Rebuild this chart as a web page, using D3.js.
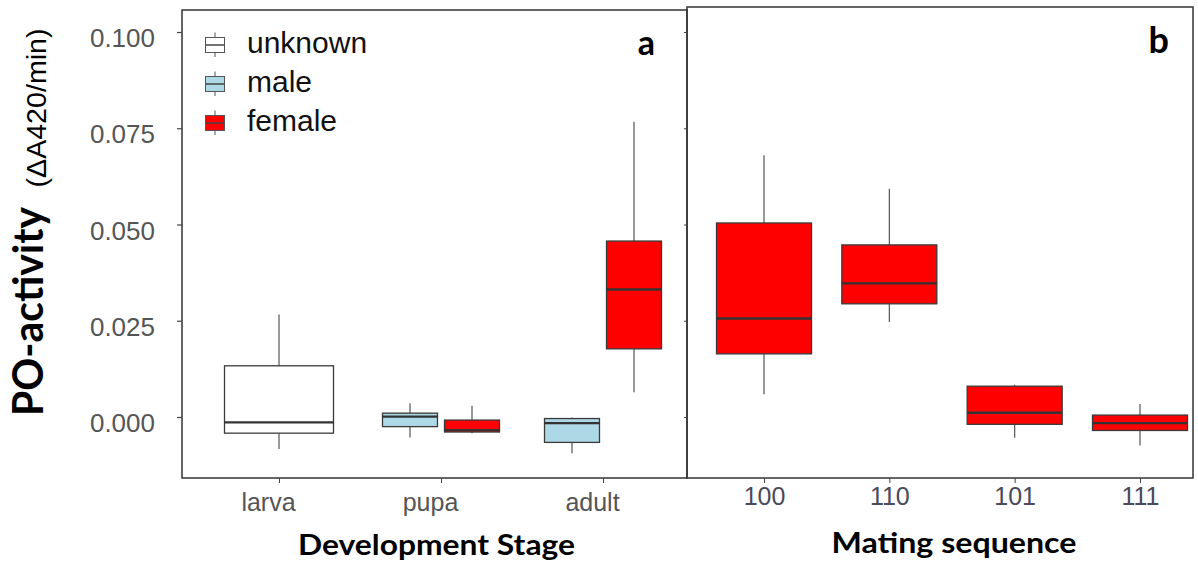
<!DOCTYPE html>
<html>
<head>
<meta charset="utf-8">
<script src="https://cdn.jsdelivr.net/npm/d3@7"></script>
<style>
  html, body { margin: 0; padding: 0; background: #fff; }
  svg { display: block; }
</style>
</head>
<body>
<svg id="chart" width="1198" height="563"></svg>
<script>
// ---------------- data ----------------
const stages = ["larva", "pupa", "adult"];
const matings = ["100", "110", "101", "111"];
const groups = ["unknown", "male", "female"];
const groupColors = ["#ffffff", "#add8e6", "#ff0000"];
const yTicks = [0, 0.025, 0.05, 0.075, 0.1];

// box stats: [lower whisker, Q1, median, Q3, upper whisker]
const unknownStats = { larva: [-0.0083, -0.0042, -0.0014, 0.0133, 0.0266] };
const maleStats = {
  pupa:  [-0.0053, -0.0025, 0.0001, 0.0010, 0.0036],
  adult: [-0.0094, -0.0066, -0.0016, -0.0004, -0.0001]
};
const femaleStats = {
  pupa:  [-0.0042, -0.0039, -0.0034, -0.0008, 0.0029],
  adult: [0.0064, 0.0177, 0.0331, 0.0457, 0.0767]
};
const matingStats = [
  [0.0059, 0.0164, 0.0256, 0.0504, 0.0680],
  [0.0247, 0.0294, 0.0347, 0.0447, 0.0593],
  [-0.0054, -0.0019, 0.0011, 0.0080, 0.0084],
  [-0.0074, -0.0035, -0.0016, 0.0005, 0.0034]
];

// ---------------- layout ----------------
const svg = d3.select("#chart");
const panelA = { x0: 182, x1: 687, y0: 10, y1: 478 };
const panelB = { x0: 687, x1: 1193, y0: 7, y1: 478 };

const y = d3.scaleLinear().domain([0, 0.1]).range([417, 32]);
const xA = d3.scalePoint().domain(stages).range([279, 603]);
const xB = d3.scalePoint().domain(matings).range([764, 1140]);
const dodge = 31;

const boxStroke = "#3a3a3a";
const whiskerStroke = "#555";
const medianStroke = "#333";

// build box list
const boxesA = [];
Object.entries(unknownStats).forEach(([k, v]) => boxesA.push({ cx: xA(k), w: 109, s: v, fill: groupColors[0] }));
Object.entries(maleStats).forEach(([k, v]) => boxesA.push({ cx: xA(k) - dodge, w: 55, s: v, fill: groupColors[1] }));
Object.entries(femaleStats).forEach(([k, v]) => boxesA.push({ cx: xA(k) + dodge, w: 55, s: v, fill: groupColors[2] }));
const boxesB = matingStats.map((s, i) => ({ cx: xB(matings[i]), w: 95, s: s, fill: groupColors[2] }));

function drawBoxes(g, data) {
  const b = g.selectAll("g.box").data(data).join("g").attr("class", "box");
  b.append("line")
    .attr("x1", d => d.cx).attr("x2", d => d.cx)
    .attr("y1", d => y(d.s[4])).attr("y2", d => y(d.s[3]))
    .attr("stroke", whiskerStroke).attr("stroke-width", 1.2);
  b.append("line")
    .attr("x1", d => d.cx).attr("x2", d => d.cx)
    .attr("y1", d => y(d.s[1])).attr("y2", d => y(d.s[0]))
    .attr("stroke", whiskerStroke).attr("stroke-width", 1.2);
  b.append("rect")
    .attr("x", d => d.cx - d.w / 2).attr("width", d => d.w)
    .attr("y", d => y(d.s[3])).attr("height", d => y(d.s[1]) - y(d.s[3]))
    .attr("fill", d => d.fill).attr("stroke", boxStroke).attr("stroke-width", 1.3);
  b.append("line")
    .attr("x1", d => d.cx - d.w / 2).attr("x2", d => d.cx + d.w / 2)
    .attr("y1", d => y(d.s[2])).attr("y2", d => y(d.s[2]))
    .attr("stroke", medianStroke).attr("stroke-width", 2.4);
}

// ---------------- panels ----------------
const gA = svg.append("g");
const gB = svg.append("g");
drawBoxes(gA, boxesA);
drawBoxes(gB, boxesB);

// borders
[panelA, panelB].forEach(p => {
  svg.append("rect")
    .attr("x", p.x0).attr("y", p.y0)
    .attr("width", p.x1 - p.x0).attr("height", p.y1 - p.y0)
    .attr("fill", "none").attr("stroke", "#333").attr("stroke-width", 1.5);
});

// y axis (panel a)
const yAxis = d3.axisLeft(y).tickValues(yTicks).tickFormat(d3.format(".3f")).tickSize(5).tickPadding(0);
const gy = svg.append("g").attr("transform", `translate(${panelA.x0},0)`).call(yAxis);
gy.select(".domain").remove();
gy.selectAll(".tick line").attr("stroke", "#444").attr("stroke-width", 1.2);
gy.selectAll(".tick text")
  .attr("x", -27).attr("dy", null).attr("y", 14.5)
  .attr("fill", "#555")
  .style("font-family", "'Liberation Sans', Arial, sans-serif")
  .style("font-size", "26px");

// y ticks on panel b (no labels)
const yAxisB = d3.axisLeft(y).tickValues(yTicks).tickFormat("").tickSize(3);
const gyB = svg.append("g").attr("transform", `translate(${panelB.x0},0)`).call(yAxisB);
gyB.select(".domain").remove();
gyB.selectAll(".tick line").attr("stroke", "#444");

// x axis panel a
const xAxisA = d3.axisBottom(xA).tickSize(5).tickPadding(0);
const gxA = svg.append("g").attr("transform", `translate(0,${panelA.y1})`).call(xAxisA);
gxA.select(".domain").remove();
gxA.selectAll(".tick line").attr("stroke", "#444");
gxA.selectAll(".tick text")
  .attr("x", -11).attr("dy", null).attr("y", 32.5)
  .attr("fill", "#555")
  .style("font-family", "'Liberation Sans', Arial, sans-serif")
  .style("font-size", "25px");

// x axis panel b
const xAxisB = d3.axisBottom(xB).tickSize(5).tickPadding(0);
const gxB = svg.append("g").attr("transform", `translate(0,${panelB.y1})`).call(xAxisB);
gxB.select(".domain").remove();
gxB.selectAll(".tick line").attr("stroke", "#444");
gxB.selectAll(".tick text")
  .attr("dy", null).attr("y", 27)
  .attr("fill", "#4a4a58")
  .style("font-family", "'Liberation Sans', Arial, sans-serif")
  .style("font-size", "25px");

// axis titles
const boldFont = "Lato, 'Open Sans', sans-serif";
svg.append("text")
  .attr("x", 436.5).attr("y", 555)
  .attr("text-anchor", "middle")
  .attr("textLength", 277).attr("lengthAdjust", "spacingAndGlyphs")
  .style("font-family", boldFont).style("font-weight", 700).style("font-size", "28px")
  .attr("fill", "#000")
  .text("Development Stage");
svg.append("text")
  .attr("x", 954).attr("y", 553)
  .attr("text-anchor", "middle")
  .attr("textLength", 245).attr("lengthAdjust", "spacingAndGlyphs")
  .style("font-family", boldFont).style("font-weight", 700).style("font-size", "28px")
  .attr("fill", "#000")
  .text("Mating sequence");

svg.append("text")
  .attr("transform", "translate(43,311.5) rotate(-90)")
  .attr("text-anchor", "middle")
  .attr("textLength", 209).attr("lengthAdjust", "spacingAndGlyphs")
  .style("font-family", boldFont).style("font-weight", 700).style("font-size", "42px")
  .attr("fill", "#000")
  .text("PO-activity");
svg.append("text")
  .attr("transform", "translate(46,108) rotate(-90)")
  .attr("text-anchor", "middle")
  .attr("textLength", 159).attr("lengthAdjust", "spacingAndGlyphs")
  .style("font-family", "'Liberation Sans', Arial, sans-serif").style("font-size", "28px")
  .attr("fill", "#000")
  .text("(ΔA420/min)");

// panel letters
svg.append("text")
  .attr("x", 655).attr("y", 55).attr("text-anchor", "end")
  .style("font-family", boldFont).style("font-weight", 700).style("font-size", "34px")
  .text("a");
svg.append("text")
  .attr("x", 1169).attr("y", 53).attr("text-anchor", "end")
  .style("font-family", boldFont).style("font-weight", 700).style("font-size", "36px")
  .text("b");

// legend
const legendY = d3.scalePoint().domain(groups).range([45, 123]);
const lg = svg.append("g").selectAll("g").data(groups).join("g")
  .attr("transform", d => `translate(215,${legendY(d)})`);
lg.append("line").attr("x1", 0).attr("x2", 0).attr("y1", -12.5).attr("y2", 12)
  .attr("stroke", "#555").attr("stroke-width", 1);
lg.append("rect").attr("x", -9.5).attr("y", -7.5).attr("width", 19).attr("height", 15)
  .attr("fill", (d, i) => groupColors[i]).attr("stroke", "#555").attr("stroke-width", 1);
lg.append("line").attr("x1", -9.5).attr("x2", 9.5).attr("y1", 0).attr("y2", 0)
  .attr("stroke", "#444").attr("stroke-width", 1.5);
lg.append("text").attr("x", 32).attr("y", 8)
  .style("font-family", "'Liberation Sans', Arial, sans-serif").style("font-size", "30px")
  .attr("fill", "#111")
  .text(d => d);
</script>
</body>
</html>
